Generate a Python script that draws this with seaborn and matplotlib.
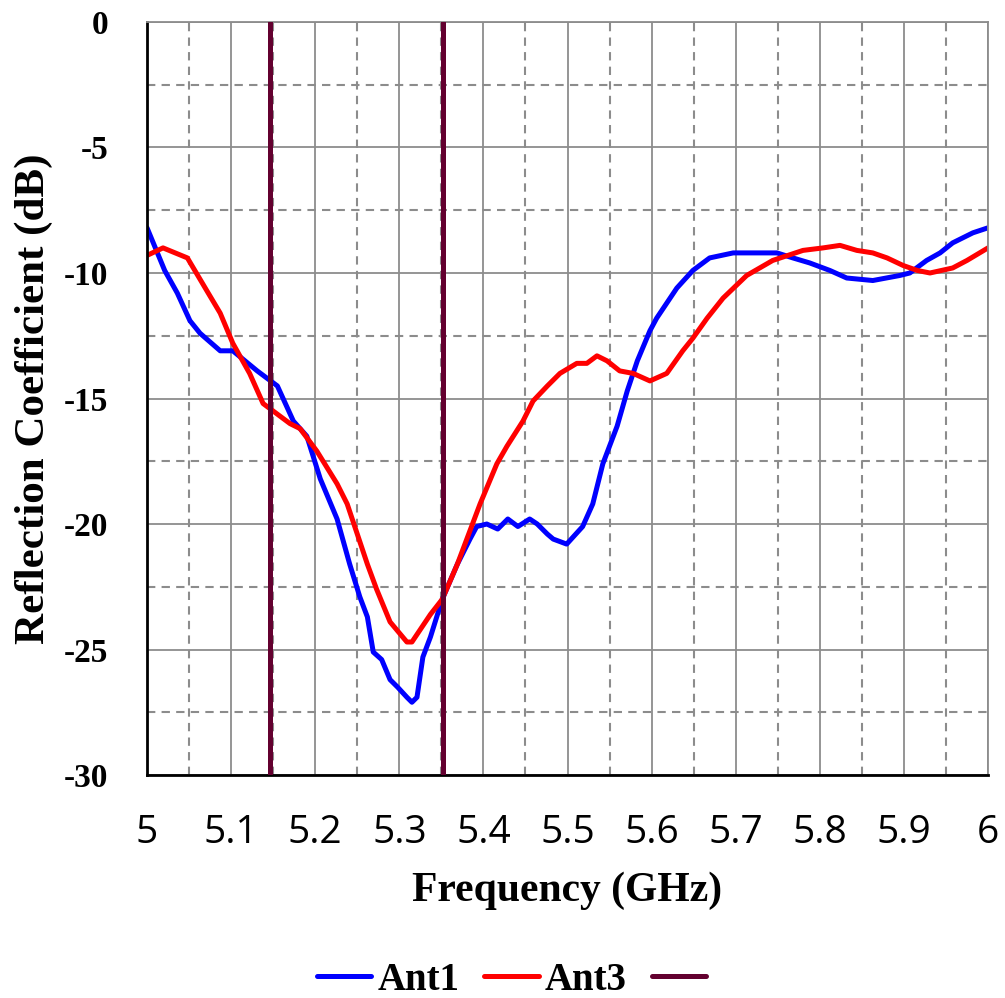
import numpy as np
import pandas as pd
import matplotlib
matplotlib.use("Agg")
import matplotlib.pyplot as plt
from matplotlib.ticker import MultipleLocator
import seaborn as sns

# Ant1 (blue)
ant1_freq = [5.000, 5.021, 5.036, 5.051, 5.063, 5.087, 5.102, 5.131, 5.155, 5.174,
             5.190, 5.206, 5.226, 5.241, 5.253, 5.262, 5.269, 5.279, 5.289, 5.298,
             5.309, 5.315, 5.321, 5.328, 5.337, 5.351, 5.369, 5.384, 5.392, 5.404,
             5.417, 5.429, 5.441, 5.455, 5.464, 5.476, 5.483, 5.499, 5.518, 5.530,
             5.542, 5.559, 5.571, 5.583, 5.598, 5.606, 5.630, 5.649, 5.669, 5.697,
             5.749, 5.768, 5.788, 5.812, 5.832, 5.863, 5.895, 5.907, 5.927, 5.943,
             5.958, 5.970, 5.982, 6.000]
ant1_db = [-8.2, -9.9, -10.8, -11.9, -12.4, -13.1, -13.1, -13.9, -14.5, -15.9,
           -16.5, -18.2, -19.8, -21.6, -22.9, -23.7, -25.1, -25.4, -26.2, -26.5,
           -26.9, -27.1, -26.9, -25.3, -24.5, -23.0, -21.6, -20.6, -20.1, -20.0,
           -20.2, -19.8, -20.1, -19.8, -20.0, -20.4, -20.6, -20.8, -20.1, -19.2,
           -17.6, -16.1, -14.7, -13.5, -12.3, -11.8, -10.6, -9.9, -9.4, -9.2,
           -9.2, -9.4, -9.6, -9.9, -10.2, -10.3, -10.1, -10.0, -9.5, -9.2,
           -8.8, -8.6, -8.4, -8.2]

# Ant3 (red)
ant3_freq = [5.000, 5.019, 5.048, 5.071, 5.087, 5.102, 5.122, 5.138, 5.150, 5.170,
             5.182, 5.202, 5.226, 5.238, 5.250, 5.262, 5.273, 5.289, 5.309, 5.315,
             5.325, 5.337, 5.351, 5.369, 5.396, 5.416, 5.428, 5.447, 5.459, 5.476,
             5.491, 5.511, 5.523, 5.535, 5.547, 5.562, 5.578, 5.598, 5.618, 5.637,
             5.649, 5.666, 5.685, 5.713, 5.744, 5.780, 5.804, 5.824, 5.844, 5.863,
             5.880, 5.899, 5.916, 5.931, 5.958, 5.975, 6.000]
ant3_db = [-9.3, -9.0, -9.4, -10.7, -11.6, -12.8, -14.0, -15.2, -15.5, -16.0,
           -16.2, -17.1, -18.4, -19.2, -20.4, -21.6, -22.6, -23.9, -24.7, -24.7,
           -24.2, -23.6, -23.0, -21.6, -19.2, -17.6, -16.9, -15.9, -15.1, -14.5,
           -14.0, -13.6, -13.6, -13.3, -13.5, -13.9, -14.0, -14.3, -14.0, -13.1,
           -12.6, -11.8, -11.0, -10.1, -9.5, -9.1, -9.0, -8.9, -9.1, -9.2,
           -9.4, -9.7, -9.9, -10.0, -9.8, -9.5, -9.0]

# band edges (vertical markers)
band_edges = [5.146, 5.352]

x_ticks = [5, 5.1, 5.2, 5.3, 5.4, 5.5, 5.6, 5.7, 5.8, 5.9, 6]
x_labels = ["5", "5.1", "5.2", "5.3", "5.4", "5.5", "5.6", "5.7", "5.8", "5.9", "6"]
y_ticks = [0, -5, -10, -15, -20, -25, -30]

sns.set_style("white", {"text.color": "black", "axes.labelcolor": "black",
                        "xtick.color": "black", "ytick.color": "black"})
serif = ["Liberation Serif", "DejaVu Serif"]

df1 = pd.DataFrame({"freq": ant1_freq, "db": ant1_db})
df3 = pd.DataFrame({"freq": ant3_freq, "db": ant3_db})

fig = plt.figure(figsize=(10.05, 9.98), dpi=100)
ax = fig.add_axes([0.1463, 0.2234, 0.8368, 0.7546])

# grid: solid major, dashed minor
ax.xaxis.set_minor_locator(MultipleLocator(0.05))
ax.yaxis.set_minor_locator(MultipleLocator(2.5))
ax.grid(which="major", color="#8c8c8c", linewidth=1.3, linestyle="-")
ax.grid(which="minor", color="#8c8c8c", linewidth=1.5, linestyle=(0, (4, 3)))
ax.set_axisbelow(True)

sns.lineplot(data=df1, x="freq", y="db", ax=ax, color="#0000ff", linewidth=3.6,
             label="Ant1", solid_joinstyle="round", solid_capstyle="round")
sns.lineplot(data=df3, x="freq", y="db", ax=ax, color="#ff0000", linewidth=3.6,
             label="Ant3", solid_joinstyle="round", solid_capstyle="round")
vlines = [ax.axvline(b, color="#63002f", linewidth=3.6, zorder=3) for b in band_edges]

ax.set_xlim(5, 6)
ax.set_ylim(-30, 0)
ax.set_xticks(x_ticks)
ax.set_xticklabels(x_labels, family="Open Sans", fontsize=28, color="black")
ax.set_yticks(y_ticks)
ax.set_yticklabels([str(v) for v in y_ticks], family=serif, fontsize=24,
                   fontweight="bold", color="black")
ax.tick_params(which="both", length=0)
ax.tick_params(axis="x", pad=28)
ax.tick_params(axis="y", pad=28)

ax.set_xlabel("Frequency (GHz)", family=serif, fontsize=30, fontweight="bold",
              labelpad=14, color="black")
ax.set_ylabel("Reflection Coefficient (dB)", family=serif, fontsize=31,
              fontweight="bold", labelpad=8, color="black")

for side in ["left", "bottom"]:
    ax.spines[side].set_color("black")
    ax.spines[side].set_linewidth(2)
for side in ["top", "right"]:
    ax.spines[side].set_color("#8c8c8c")
    ax.spines[side].set_linewidth(1.3)

h, l = ax.get_legend_handles_labels()
ax.get_legend().remove()
fig.legend(handles=h[:2] + [vlines[0]], labels=["Ant1", "Ant3", ""],
           loc="center", bbox_to_anchor=(0.512, 0.018), ncol=3, frameon=False,
           prop={"family": serif, "size": 28, "weight": "bold"},
           handlelength=1.4, handletextpad=0.15, columnspacing=0.65)

fig.savefig("out.png", dpi=100)
